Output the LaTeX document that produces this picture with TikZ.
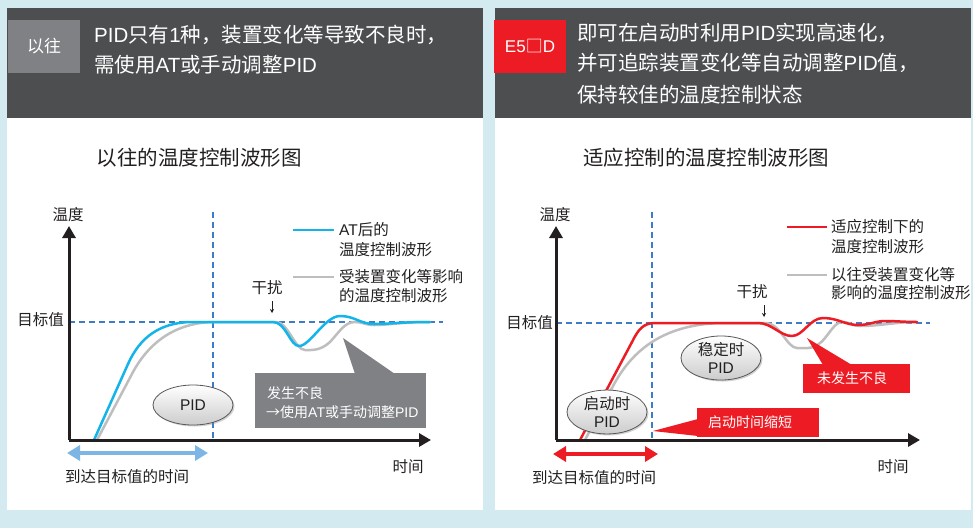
\documentclass[tikz,border=0pt]{standalone}
\usepackage{fontspec}
\setmainfont{Noto Sans CJK SC}
\newfontfamily\lat{Liberation Sans}
\usetikzlibrary{arrows.meta,shadows,shapes.geometric}
\definecolor{bgblue}{HTML}{D2EAF0}
\definecolor{hdr}{HTML}{4D4E50}
\definecolor{taggray}{HTML}{808184}
\definecolor{ored}{HTML}{ED1C24}
\definecolor{ocyan}{HTML}{12B4EA}
\definecolor{ogray}{HTML}{BEBEBE}
\definecolor{odash}{HTML}{3D7DC8}
\definecolor{lblue}{HTML}{7DB6E4}
\definecolor{ink}{HTML}{231F20}
\begin{document}
\begin{tikzpicture}[x=1pt,y=-1pt,
  tagbox/.style={rectangle, minimum width=72pt, minimum height=53pt, inner sep=0pt, text=white, font=\fontsize{17}{20}\selectfont},
  hdrtext/.style={anchor=west, inner sep=0pt, text=white, font=\fontsize{20.5}{24}\selectfont},
  subtitle/.style={inner sep=0pt, text=ink, font=\fontsize{20.5}{24}\selectfont},
  lbl/.style={inner sep=0pt, text=ink, font=\fontsize{15.5}{18}\selectfont},
  leg/.style={anchor=west, inner sep=0pt, text=ink, font=\fontsize{15.5}{18}\selectfont},
  calltext/.style={inner sep=0pt, text=white, font=\fontsize{14}{17}\selectfont},
  axis/.style={ink, line width=3pt, -{Triangle[length=12pt,width=13pt]}},
  tdash/.style={odash, line width=1.2pt, dash pattern=on 6pt off 4pt},
  curve/.style={line width=2.5pt, line join=round, line cap=round},
  ell/.style={ellipse, draw=ink!75, line width=0.8pt, minimum width=80pt, minimum height=40pt, inner sep=0pt,
     top color=white, bottom color=gray!40, text=ink, align=center,
     font=\fontsize{15.5}{18}\selectfont,
     drop shadow={opacity=0.35, shadow xshift=1.5pt, shadow yshift=-1.5pt}},
  dblarrow/.style={line width=4.5pt, {Triangle[length=13pt,width=15pt]}-{Triangle[length=13pt,width=15pt]}},
  smallarrow/.style={ink, line width=0.8pt, -{Stealth[length=4pt,width=4pt]}}
]
\useasboundingbox (0,0) rectangle (973,528);
\fill[bgblue] (0,0) rectangle (973,528);
% panels
\fill[white] (7,8) rectangle (483,510);
\fill[white] (495,8) rectangle (971,510);
\fill[hdr] (7,8) rectangle (483,118);
\fill[hdr] (495,8) rectangle (971,118);

% headers
\node[tagbox, fill=taggray] (tagL) at (44,46.5) {以往};
\node[hdrtext] (hL1) at (94,35) {{\lat PID}只有{\lat 1}种，装置变化等导致不良时，};
\node[hdrtext] (hL2) at (94,65) {需使用{\lat AT}或手动调整{\lat PID}};
\node[tagbox, fill=ored] (tagR) at (530,46.5) {{\lat E5}□{\lat D}};
\node[hdrtext] (hR1) at (577,33) {即可在启动时利用{\lat PID}实现高速化，};
\node[hdrtext] (hR2) at (577,63) {并可追踪装置变化等自动调整{\lat PID}值，};
\node[hdrtext] (hR3) at (577,95) {保持较佳的温度控制状态};

% subtitles
\node[subtitle] (stL) at (199,158) {以往的温度控制波形图};
\node[subtitle] (stR) at (706,158) {适应控制的温度控制波形图};

%%%%%%%% LEFT CHART
\coordinate (oL) at (69,440);
\coordinate (yL) at (69,226);
\coordinate (xL) at (431,440);
\coordinate (tL1) at (69,322);
\coordinate (tL2) at (443,322);
\coordinate (vL1) at (213,212);
\coordinate (vL2) at (213,440);
\draw[tdash] (tL1) -- (tL2);
\draw[tdash] (vL1) -- (vL2);

% gray curve
\draw[curve, ogray] (97,440) -- (133,372) .. controls (146,348) and (170,323) .. (213,322)
  -- (276,322) .. controls (288,322) and (295,350) .. (305,350)
  .. controls (312,350) and (320,351) .. (330,342)
  .. controls (340,331) and (345,322) .. (355,322)
  .. controls (362,322) and (366,325) .. (374,325)
  .. controls (390,325) and (400,322) .. (430,322);
% cyan curve
\draw[curve, ocyan] (94,440) -- (128,364) .. controls (140,337) and (160,323) .. (190,322)
  -- (273,322) .. controls (286,322) and (290,346) .. (299,346)
  .. controls (310,346) and (325,316) .. (340,316)
  .. controls (355,316) and (360,324) .. (374,324)
  .. controls (390,324) and (400,322) .. (430,322);

\draw[axis] (oL) -- (yL);
\draw[axis] (oL) -- (xL);

\node[lbl] (tempL) at (68,215) {温度};
\node[lbl, anchor=east] (targL) at (64,320) {目标值};
\node[lbl] (timeL) at (408,467) {时间};
\node[lbl] (reachL) at (127,477) {到达目标值的时间};
\coordinate (raL) at (67,453);
\coordinate (rbL) at (208,453);
\draw[dblarrow, lblue] (raL) -- (rbL);

% legend
\coordinate (lgA1) at (293,230);
\coordinate (lgA2) at (334,230);
\draw[line width=2.5pt, ocyan] (lgA1) -- (lgA2);
\node[leg] (lgAt1) at (339,230) {{\lat AT}后的};
\node[leg] (lgAt2) at (339,250) {温度控制波形};
\coordinate (lgB1) at (293,277);
\coordinate (lgB2) at (334,277);
\draw[line width=2.5pt, ogray] (lgB1) -- (lgB2);
\node[leg] (lgBt1) at (339,277) {受装置变化等影响};
\node[leg] (lgBt2) at (339,296) {的温度控制波形};

% disturbance
\node[lbl] (distL) at (267,288) {干扰};
\coordinate (daL) at (272,301);
\coordinate (dbL) at (272,313);
\draw[smallarrow] (daL) -- (dbL);

% gray callout
\node[rectangle, fill=taggray, minimum width=171pt, minimum height=55pt, inner sep=0pt] (badL) at (340.5,400.5) {};
\fill[taggray] (343,338) -- (355,374) -- (395,374) -- cycle;
\node[calltext, anchor=west] (badLt1) at (267,393) {发生不良};
\node[calltext, anchor=west] (badLt2) at (266,412) {→使用{\lat AT}或手动调整{\lat PID}};

% PID ellipse
\node[ell] (pidL) at (193,405) {\lat PID};

%%%%%%%% RIGHT CHART
\coordinate (oR) at (556,440);
\coordinate (yR) at (556,226);
\coordinate (xR) at (920,440);
\coordinate (tR1) at (556,323);
\coordinate (tR2) at (930,323);
\coordinate (vR1) at (652,212);
\coordinate (vR2) at (652,440);
\draw[tdash] (tR1) -- (tR2);
\draw[tdash] (vR1) -- (vR2);

% gray curve
\draw[curve, ogray] (585,440) -- (612,388) .. controls (630,353) and (660,325) .. (720,323)
  -- (766,323) .. controls (780,323) and (787,348) .. (797,348)
  .. controls (808,348) and (815,350) .. (825,338)
  .. controls (833,328) and (836,322) .. (843,322)
  .. controls (850,322) and (852,326) .. (860,326)
  .. controls (880,326) and (895,322) .. (917,322);
% red curve
\draw[curve, ored] (580,440) -- (632,342) .. controls (638,330) and (643,323) .. (655,323)
  -- (758,323) .. controls (772,323) and (780,336) .. (792,336)
  .. controls (803,336) and (810,318) .. (823,318)
  .. controls (838,318) and (845,325) .. (858,325)
  .. controls (870,325) and (875,321) .. (885,321)
  .. controls (895,321) and (905,322) .. (917,322);

\draw[axis] (oR) -- (yR);
\draw[axis] (oR) -- (xR);

\node[lbl] (tempR) at (555,215) {温度};
\node[lbl, anchor=east] (targR) at (553,323) {目标值};
\node[lbl] (timeR) at (893,467) {时间};
\node[lbl] (reachR) at (594,478) {到达目标值的时间};
\coordinate (raR) at (553,454);
\coordinate (rbR) at (658,454);
\draw[dblarrow, ored] (raR) -- (rbR);

% legend
\coordinate (lgC1) at (787,227);
\coordinate (lgC2) at (827,227);
\draw[line width=2.5pt, ored] (lgC1) -- (lgC2);
\node[leg] (lgCt1) at (831,227) {适应控制下的};
\node[leg] (lgCt2) at (831,247) {温度控制波形};
\coordinate (lgD1) at (787,275);
\coordinate (lgD2) at (827,275);
\draw[line width=2.5pt, ogray] (lgD1) -- (lgD2);
\node[leg] (lgDt1) at (831,275) {以往受装置变化等};
\node[leg] (lgDt2) at (831,293) {影响的温度控制波形};

% disturbance
\node[lbl] (distR) at (752,292) {干扰};
\coordinate (daR) at (764,305);
\coordinate (dbR) at (764,317);
\draw[smallarrow] (daR) -- (dbR);

% red callouts
\node[rectangle, fill=ored, minimum width=107pt, minimum height=29pt, inner sep=0pt] (okR) at (856.5,378.5) {};
\fill[ored] (807,338) -- (823,365) -- (852,365) -- cycle;
\node[calltext] (okRt) at (852,378.5) {未发生不良};
\node[rectangle, fill=ored, minimum width=122pt, minimum height=29pt, inner sep=0pt] (fastR) at (758,422.5) {};
\fill[ored] (653,431) -- (698,419) -- (698,436) -- cycle;
\node[calltext] (fastRt) at (750,422.5) {启动时间缩短};

% ellipses
\node[ell] (pidR1) at (721,358) {稳定时\\{\lat PID}};
\node[ell] (pidR2) at (607,412) {启动时\\{\lat PID}};
\end{tikzpicture}
\end{document}
